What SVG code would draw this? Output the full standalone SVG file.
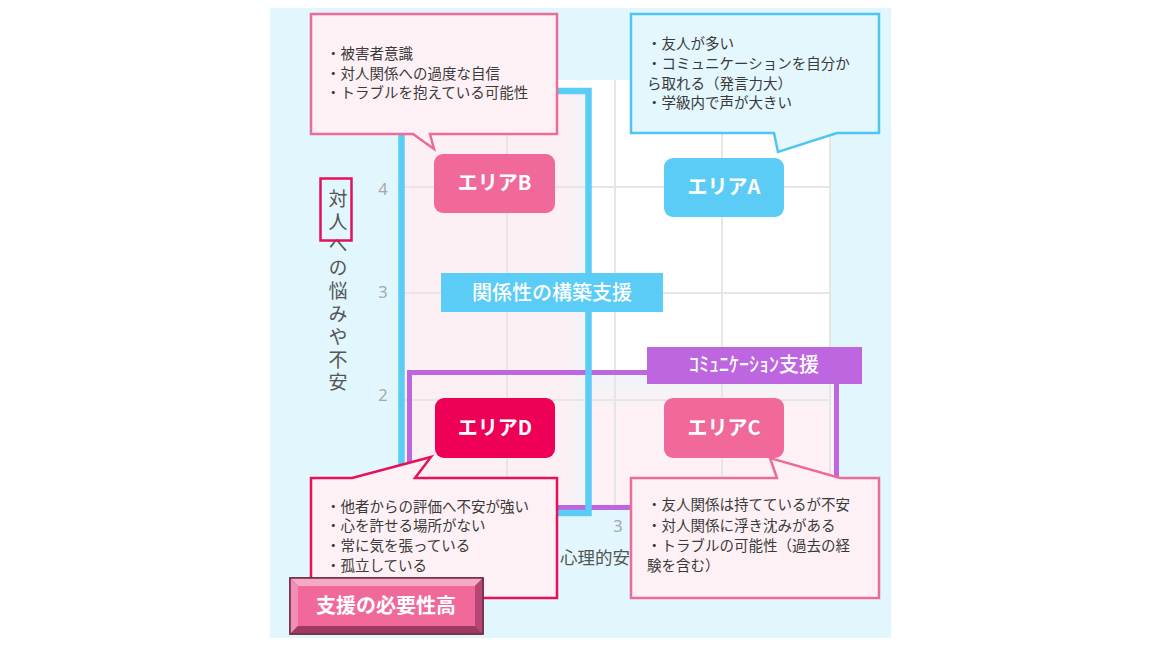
<svg xmlns="http://www.w3.org/2000/svg" width="1164" height="652" viewBox="0 0 1164 652">
<defs>
<style>
.jp{font-family:"Noto Sans CJK JP","Noto Sans",sans-serif;}
.txt{font-size:14.5px;fill:#3a3a3a;}
.area{font-size:20px;fill:#fff;font-weight:600;text-anchor:middle;}
.tick{font-size:16.5px;fill:#a8a8a8;text-anchor:middle;font-family:"Noto Sans","DejaVu Sans",sans-serif;}
.grid{stroke:#e6e6e6;stroke-width:2;fill:none;}
.pinkbox{fill:#fdf1f5;stroke:#ec6b97;stroke-width:2.5;}
</style>
<linearGradient id="leftTint" x1="0" y1="0" x2="1" y2="0">
<stop offset="0" stop-color="#fdf0f4"/>
<stop offset="0.85" stop-color="#fdf0f4"/>
<stop offset="1" stop-color="#eef5f9"/>
</linearGradient>
<linearGradient id="botTint" x1="0" y1="0" x2="0" y2="1">
<stop offset="0" stop-color="#eef4f8"/>
<stop offset="0.25" stop-color="#fdf1f5"/>
<stop offset="1" stop-color="#fdf1f5"/>
</linearGradient>
</defs>

<!-- panel -->
<rect x="0" y="0" width="1164" height="652" fill="#ffffff"/>
<rect x="270" y="8" width="621" height="630" fill="#e1f7fd"/>

<!-- plot area -->
<g id="plot">
<rect x="400" y="80" width="430" height="430" fill="#ffffff"/>
<rect x="400" y="88" width="190" height="424" fill="url(#leftTint)"/>
<rect x="590" y="374" width="246" height="134" fill="url(#botTint)"/>
<line class="grid" x1="507" y1="80" x2="507" y2="510"/>
<line class="grid" x1="615" y1="80" x2="615" y2="510"/>
<line class="grid" x1="722" y1="80" x2="722" y2="510"/>
<line class="grid" x1="830" y1="80" x2="830" y2="510"/>
<line class="grid" x1="398" y1="187" x2="830" y2="187"/>
<line class="grid" x1="398" y1="293" x2="830" y2="293"/>
<line class="grid" x1="398" y1="400" x2="830" y2="400"/>
</g>

<!-- axes -->
<g id="axis">
<text class="tick" x="383" y="195">4</text>
<text class="tick" x="383" y="298">3</text>
<text class="tick" x="383" y="401">2</text>
<text class="tick" x="618" y="532">3</text>
<text class="jp" x="338" y="189.5" font-size="19" fill="#555" style="writing-mode:vertical-rl;letter-spacing:3.9px">対人への悩みや不安</text>
<rect x="320.5" y="178.5" width="31" height="62" fill="none" stroke="#e3105a" stroke-width="2.5"/>
<text class="jp" x="560" y="564" font-size="17.5" fill="#555">心理的安</text>
</g>

<!-- support frames -->
<g id="connectors">
<rect x="409.5" y="372.5" width="427" height="135" fill="none" stroke="#bd66df" stroke-width="5"/>
<rect x="401.5" y="91" width="187" height="422" fill="none" stroke="#5accf6" stroke-width="6.5"/>
</g>

<g id="label-relations">
<rect x="441" y="273" width="222" height="39" fill="#5accf6"/>
<text class="jp" x="552" y="300" font-size="20" fill="#fff" text-anchor="middle" font-weight="500">関係性の構築支援</text>
</g>

<g id="label-communication">
<rect x="647" y="347" width="215" height="37" fill="#bd66df"/>
<text class="jp" x="754" y="372" font-size="20" fill="#fff" text-anchor="middle" font-weight="500">ｺﾐｭﾆｹｰｼｮﾝ支援</text>
</g>

<!-- area nodes -->
<g id="area-b">
<rect x="434" y="154" width="121" height="59" rx="9" fill="#f0699a"/>
<text class="jp area" x="494.5" y="190">エリアB</text>
</g>
<g id="area-a">
<rect x="664" y="158" width="120" height="59" rx="9" fill="#5accf6"/>
<text class="jp area" x="724" y="194">エリアA</text>
</g>
<g id="area-d">
<rect x="435" y="398" width="120" height="60" rx="9" fill="#ee0057"/>
<text class="jp area" x="495" y="435">エリアD</text>
</g>
<g id="area-c">
<rect x="664" y="398" width="120" height="60" rx="9" fill="#f0699a"/>
<text class="jp area" x="724" y="435">エリアC</text>
</g>

<!-- callouts -->
<g id="callout-b">
<path class="pinkbox" d="M311,14 H557 V134 H430 L434,149 L413,134 H311 Z"/>
<text class="jp txt"><tspan x="326" y="59">・被害者意識</tspan><tspan x="326" y="79">・対人関係への過度な自信</tspan><tspan x="326" y="98">・トラブルを抱えている可能性</tspan></text>
</g>
<g id="callout-a">
<path d="M631,14 H879 V133 H837 L778,152 L774,133 H631 Z" fill="#e3f7fd" stroke="#4ec6f0" stroke-width="2.5"/>
<text class="jp txt"><tspan x="647" y="49">・友人が多い</tspan><tspan x="647" y="69">・コミュニケーションを自分か</tspan><tspan x="647" y="89">ら取れる（発言力大）</tspan><tspan x="647" y="108">・学級内で声が大きい</tspan></text>
</g>
<g id="callout-d">
<path d="M311,478 H352 L431,457 L415,478 H557 V598 H311 Z" fill="#fdf1f5" stroke="#e6115a" stroke-width="2.5"/>
<text class="jp txt"><tspan x="326" y="512">・他者からの評価へ不安が強い</tspan><tspan x="326" y="531">・心を許せる場所がない</tspan><tspan x="326" y="551">・常に気を張っている</tspan><tspan x="326" y="571">・孤立している</tspan></text>
</g>
<g id="callout-c">
<path class="pinkbox" d="M631,478 H777 L770,458 L840,478 H879 V598 H631 Z"/>
<text class="jp txt"><tspan x="647" y="510">・友人関係は持てているが不安</tspan><tspan x="647" y="531">・対人関係に浮き沈みがある</tspan><tspan x="647" y="551">・トラブルの可能性（過去の経</tspan><tspan x="647" y="571">験を含む）</tspan></text>
</g>

<!-- button -->
<g id="need-button">
<rect x="290" y="578" width="193" height="56" fill="#b84a74" stroke="#6e2c48" stroke-width="1.5"/>
<polygon points="290,578 483,578 475,586 298,586" fill="#f6a9c5"/>
<polygon points="290,578 298,586 298,626 290,634" fill="#f28db3"/>
<polygon points="290,634 298,626 475,626 483,634" fill="#9e3a62"/>
<polygon points="483,578 483,634 475,626 475,586" fill="#b64673"/>
<rect x="298" y="586" width="177" height="40" fill="#f0699a"/>
<rect x="290" y="578" width="193" height="56" fill="none" stroke="#6e2c48" stroke-width="1.5"/>
<text class="jp" x="386" y="613" font-size="20" fill="#fff" text-anchor="middle" font-weight="700">支援の必要性高</text>
</g>
</svg>
